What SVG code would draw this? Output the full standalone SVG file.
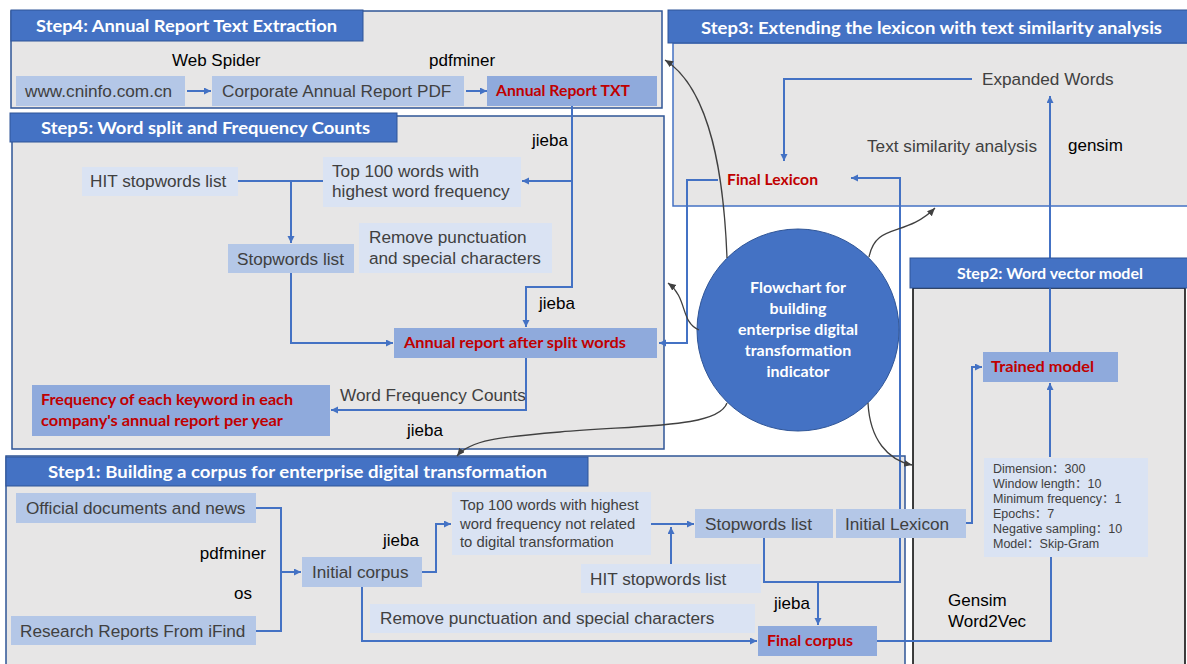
<svg xmlns="http://www.w3.org/2000/svg" width="1187" height="664" viewBox="0 0 1187 664">
<style>
.panel{fill:#e7e6e6;stroke:#2f5597;stroke-width:1.5}
.bar{fill:#4472c4;stroke:#2f5597;stroke-width:1}
.bt{font-family:Lato,"Open Sans",sans-serif;font-weight:bold;font-size:17px;fill:#fff}
.bm{fill:#b4c7e7}
.bl{fill:#dae3f3}
.bd{fill:#8faadc}
.t{font-family:"Liberation Sans",Arial,sans-serif;font-size:17.2px;fill:#404040}
.k{font-family:"Liberation Sans",Arial,sans-serif;font-size:17px;fill:#000}
.r{font-family:Lato,"Open Sans",sans-serif;font-weight:bold;font-size:15px;fill:#c00000}
.p{font-family:"Liberation Sans",Arial,"Noto Sans CJK SC",sans-serif;font-size:12.5px;fill:#404040}
.c{fill:none;stroke:#4472c4;stroke-width:2}
.ca{fill:none;stroke:#4472c4;stroke-width:2;marker-end:url(#ab)}
.g{fill:none;stroke:#404040;stroke-width:1.3;marker-end:url(#ag)}
.ct{font-family:Lato,"Open Sans",sans-serif;font-weight:bold;font-size:16px;fill:#fff;text-anchor:middle}
</style>
<defs>
<marker id="ab" markerUnits="userSpaceOnUse" markerWidth="8" markerHeight="8" refX="7" refY="3.5" orient="auto"><path d="M0,0 L7,3.5 L0,7 z" fill="#4472c4"/></marker>
<marker id="ag" markerUnits="userSpaceOnUse" markerWidth="9" markerHeight="8" refX="8" refY="3.5" orient="auto"><path d="M0,0 L8,3.5 L0,7 z" fill="#404040"/></marker>
</defs>

<!-- panel bodies -->
<g id="panel-step4-body"><rect class="panel" x="11" y="11" width="651" height="97"/></g>
<g id="panel-step3-body"><rect class="panel" x="673" y="43" width="520" height="163" style="stroke:#4472c4"/></g>
<g id="panel-step5-body"><rect class="panel" x="12" y="116" width="652" height="333"/></g>
<g id="panel-step1-body"><rect class="panel" x="6" y="456" width="899" height="215"/></g>
<g id="panel-step2-body"><rect class="panel" x="913" y="288" width="272" height="380" style="stroke:#000"/></g>

<!-- connectors -->
<g id="connectors">
<path class="ca" d="M187 91 H211"/>
<path class="ca" d="M466 91 H487"/>
<path class="ca" d="M572 106 V287 H526 V327"/>
<path class="ca" d="M572 181 H522"/>
<path class="c" d="M238 181 H323"/>
<path class="ca" d="M291 181 V243"/>
<path class="ca" d="M291 273 V343 H393"/>
<path class="ca" d="M526 358 V410 H331"/>
<path class="ca" d="M718 180 H687 V343 H659"/>
<path class="c" d="M256 508 H281 V631 H256"/>
<path class="ca" d="M281 572 H301"/>
<path class="ca" d="M422 572 H436 V524 H451"/>
<path class="ca" d="M651 524 H694"/>
<path class="ca" d="M671 564 V527"/>
<path class="ca" d="M764 538 V582 H900 V178 H851"/>
<path class="ca" d="M818 582 V625"/>
<path class="ca" d="M362 587 V641 H757"/>
<path class="c" d="M877 641 H1051 V557"/>
<path class="ca" d="M966 523 H972 V367 H982"/>
<path class="ca" d="M1050 457 V383"/>
<path class="ca" d="M1050 352 V96"/>
<path class="ca" d="M972 79 H784 V161"/>
</g>

<!-- title bars -->
<g id="step4-title"><rect class="bar" x="11" y="10" width="352" height="31"/><text class="bt" x="36" y="32" textLength="301" lengthAdjust="spacingAndGlyphs">Step4: Annual Report Text Extraction</text></g>
<g id="step3-title"><rect class="bar" x="668" y="10" width="525" height="33"/><text class="bt" x="701" y="34" textLength="461" lengthAdjust="spacingAndGlyphs">Step3: Extending the lexicon with text similarity analysis</text></g>
<g id="step5-title"><rect class="bar" x="10" y="113" width="387" height="29"/><text class="bt" x="41" y="134" textLength="329" lengthAdjust="spacingAndGlyphs">Step5: Word split and Frequency Counts</text></g>
<g id="step1-title"><rect class="bar" x="6" y="457" width="582" height="29"/><text class="bt" x="48" y="478" textLength="499" lengthAdjust="spacingAndGlyphs">Step1: Building a corpus for enterprise digital transformation</text></g>
<g id="step2-title"><rect class="bar" x="910" y="258" width="280" height="30"/><text class="bt" x="957" y="279" style="font-size:16px" textLength="186" lengthAdjust="spacingAndGlyphs">Step2: Word vector model</text></g>

<!-- step4 nodes -->
<text class="k" x="172" y="66">Web Spider</text>
<text class="k" x="429" y="66">pdfminer</text>
<g id="n-cninfo"><rect class="bm" x="16" y="76" width="169" height="30"/><text class="t" x="25" y="97">www.cninfo.com.cn</text></g>
<g id="n-pdf"><rect class="bm" x="212" y="76" width="252" height="30"/><text class="t" x="222" y="97">Corporate Annual Report PDF</text></g>
<g id="n-txt"><rect class="bd" x="487" y="76" width="170" height="30"/><text class="r" x="496" y="96" textLength="134" lengthAdjust="spacingAndGlyphs">Annual Report TXT</text></g>

<!-- step3 nodes -->
<g id="n-expanded"><text class="t" x="982" y="85">Expanded Words</text></g>
<text class="t" x="867" y="152">Text similarity analysis</text>
<text class="k" x="1068" y="151">gensim</text>
<g id="n-final-lexicon"><text class="r" x="727" y="185" textLength="91" lengthAdjust="spacingAndGlyphs">Final Lexicon</text></g>

<!-- step5 nodes -->
<text class="k" x="532" y="146">jieba</text>
<text class="k" x="539" y="309">jieba</text>
<text class="k" x="407" y="436">jieba</text>
<g id="n-hit5"><rect class="bl" x="82" y="167" width="156" height="29"/><text class="t" x="90" y="187">HIT stopwords list</text></g>
<g id="n-top5"><rect class="bl" x="323" y="157" width="198" height="50"/><text class="t" x="332" y="177">Top 100 words with</text><text class="t" x="332" y="197">highest word frequency</text></g>
<g id="n-stop5"><rect class="bm" x="228" y="244" width="126" height="29"/><text class="t" x="237" y="265">Stopwords list</text></g>
<g id="n-remove5"><rect class="bl" x="359" y="223" width="193" height="50"/><text class="t" x="369" y="243">Remove punctuation</text><text class="t" x="369" y="264">and special characters</text></g>
<g id="n-split"><rect class="bd" x="394" y="328" width="263" height="30"/><text class="r" x="404" y="348" textLength="222" lengthAdjust="spacingAndGlyphs">Annual report after split words</text></g>
<text class="t" x="340" y="401">Word Frequency Counts</text>
<g id="n-freq"><rect class="bd" x="32" y="385" width="298" height="51"/><text class="r" x="41" y="405" textLength="252" lengthAdjust="spacingAndGlyphs">Frequency of each keyword in each</text><text class="r" x="41" y="426" textLength="242" lengthAdjust="spacingAndGlyphs">company's annual report per year</text></g>

<!-- step1 nodes -->
<g id="n-official"><rect class="bm" x="16" y="493" width="240" height="30"/><text class="t" x="26" y="514">Official documents and news</text></g>
<g id="n-research"><rect class="bm" x="11" y="616" width="245" height="29"/><text class="t" x="20" y="637">Research Reports From iFind</text></g>
<text class="k" x="266" y="559" text-anchor="end">pdfminer</text>
<text class="k" x="234" y="599">os</text>
<g id="n-initial-corpus"><rect class="bm" x="302" y="557" width="120" height="30"/><text class="t" x="312" y="578">Initial corpus</text></g>
<text class="k" x="383" y="546">jieba</text>
<g id="n-top1"><rect class="bl" x="452" y="492" width="199" height="63"/><text class="t" style="font-size:14.8px" x="460" y="510">Top 100 words with highest</text><text class="t" style="font-size:14.8px" x="460" y="529">word frequency not related</text><text class="t" style="font-size:14.8px" x="460" y="547">to digital transformation</text></g>
<g id="n-stop1"><rect class="bm" x="695" y="509" width="138" height="29"/><text class="t" x="705" y="530">Stopwords list</text></g>
<g id="n-initial-lexicon"><rect class="bm" x="836" y="509" width="130" height="29"/><text class="t" x="845" y="530">Initial Lexicon</text></g>
<g id="n-hit1"><rect class="bl" x="581" y="564" width="180" height="29"/><text class="t" x="590" y="585">HIT stopwords list</text></g>
<g id="n-remove1"><rect class="bl" x="370" y="604" width="385" height="29"/><text class="t" x="380" y="624">Remove punctuation and special characters</text></g>
<text class="k" x="774" y="609">jieba</text>
<g id="n-final-corpus"><rect class="bd" x="758" y="626" width="119" height="30"/><text class="r" x="767" y="646" textLength="86" lengthAdjust="spacingAndGlyphs">Final corpus</text></g>

<!-- step2 nodes -->
<g id="n-trained"><rect class="bd" x="983" y="352" width="135" height="30"/><text class="r" x="991" y="372" textLength="103" lengthAdjust="spacingAndGlyphs">Trained model</text></g>
<g id="n-params"><rect class="bl" x="984" y="458" width="164" height="99"/>
<text class="p" x="993" y="473">Dimension：300</text>
<text class="p" x="993" y="488">Window length：10</text>
<text class="p" x="993" y="503">Minimum frequency：1</text>
<text class="p" x="993" y="518">Epochs：7</text>
<text class="p" x="993" y="533">Negative sampling：10</text>
<text class="p" x="993" y="548">Model：Skip-Gram</text></g>
<g id="n-gensim"><text class="k" style="font-size:17px" x="948" y="606">Gensim</text><text class="k" style="font-size:17px" x="948" y="627">Word2Vec</text></g>

<!-- center -->
<g id="n-center"><circle cx="798" cy="330" r="101" fill="#4472c4" stroke="#2f5597" stroke-width="1"/>
<text class="ct" x="798" y="293">Flowchart for</text>
<text class="ct" x="798" y="314">building</text>
<text class="ct" x="798" y="335">enterprise digital</text>
<text class="ct" x="798" y="356">transformation</text>
<text class="ct" x="798" y="377">indicator</text></g>

<g id="connectors-center">
<path class="g" d="M727 258 C724 180 712 90 665 60"/>
<path class="g" d="M699 330 C680 322 688 298 668 283"/>
<path class="g" d="M869 257 C876 222 905 238 935 208"/>
<path class="g" d="M727 403 C718 428 640 425 560 432 C500 437 470 440 457 456"/>
<path class="g" d="M868 403 C870 440 888 460 912 465"/>
</g>
</svg>
